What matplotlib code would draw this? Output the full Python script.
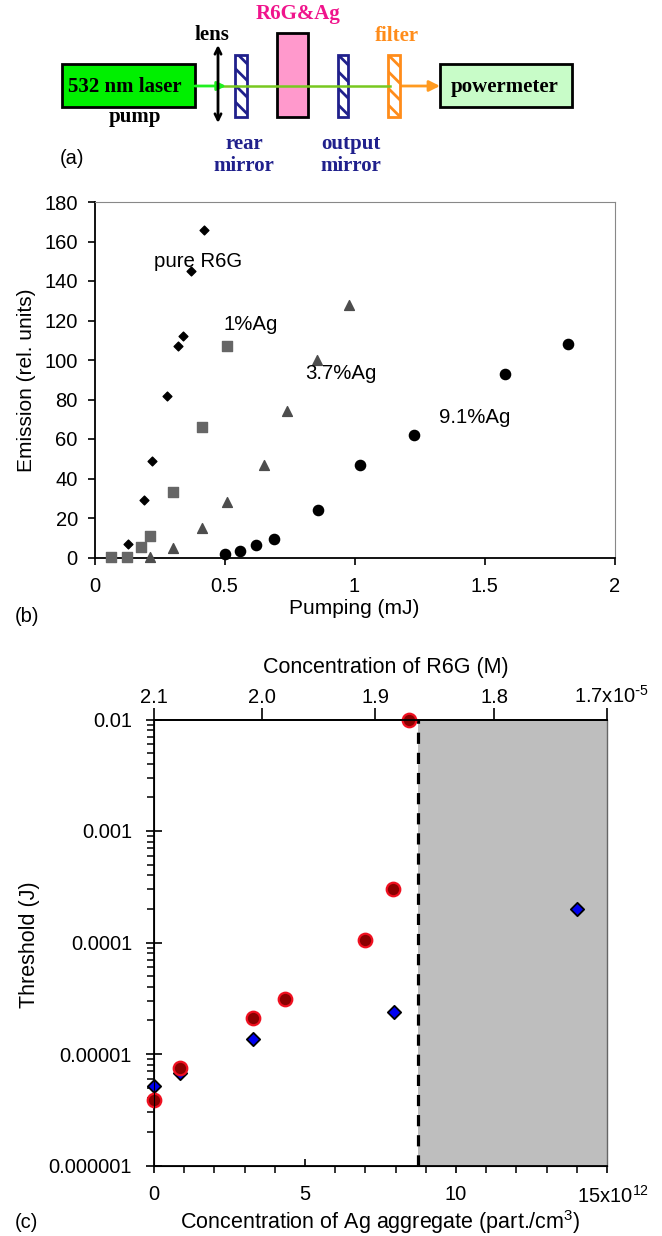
import matplotlib
matplotlib.use('Agg')
import matplotlib.pyplot as plt
from matplotlib.lines import TICKUP
from matplotlib.patches import Rectangle
from matplotlib.ticker import FixedLocator, NullFormatter
from matplotlib.transforms import ScaledTranslation

plt.rcParams['font.family'] = ['Liberation Sans', 'DejaVu Sans']
plt.rcParams['mathtext.default'] = 'regular'
plt.rcParams['font.size'] = 13

W, H = 662, 1236

# panel (b): pumping (mJ) vs emission
PURE_X = [0.13, 0.19, 0.22, 0.28, 0.32, 0.34, 0.37, 0.42]
PURE_Y = [7, 29, 49, 82, 107, 112, 145, 166]
AG1_X = [0.065, 0.125, 0.18, 0.215, 0.30, 0.415, 0.51]
AG1_Y = [0.5, 0.5, 5.5, 11, 33, 66, 107]
AG37_X = [0.215, 0.30, 0.415, 0.51, 0.65, 0.74, 0.855, 0.98]
AG37_Y = [0.5, 5, 15, 28, 47, 74, 100, 128]
AG91_X = [0.50, 0.56, 0.62, 0.69, 0.86, 1.02, 1.23, 1.58, 1.82]
AG91_Y = [2, 3.5, 6.5, 9.5, 24, 47, 62, 93, 108]

# panel (c): threshold vs aggregate concentration
RED_X = [0, 0.85, 3.27, 4.33, 7.0, 7.9, 8.45]
RED_Y = [3.9e-6, 7.5e-6, 2.1e-5, 3.1e-5, 1.05e-4, 3e-4, 9.8e-3]
BLUE_X = [0, 0.85, 3.27, 7.95, 14.0]
BLUE_Y = [5.2e-6, 6.7e-6, 1.35e-5, 2.4e-5, 2e-4]
THRESH_X = 8.73
C_XMAX = 15

# top axis of (c): tick places on the bottom scale
TOP_POS = [0, 3.57, 7.33, 11.27, 15]
TOP_LABELS = ['2.1', '2.0', '1.9', '1.8', '1.7x10$^{\\text{-}5}$']
C_YTICKS = [1e-6, 1e-5, 1e-4, 1e-3, 1e-2]
C_YLABELS = ['0.000001', '0.00001', '0.0001', '0.001', '0.01']


def px_axes(fig, left, top, right, bottom):
    return fig.add_axes([left / W, 1 - bottom / H, (right - left) / W, (bottom - top) / H])


def hatched(ax, x0, y0, x1, y1, col):
    ax.add_patch(Rectangle((x0, y0), x1 - x0, y1 - y0, fc='white', ec=col, lw=2,
                           hatch='\\\\', zorder=4))


def nudge(label, fig, dx_px):
    label.set_transform(label.get_transform() + ScaledTranslation(dx_px / 100, 0, fig.dpi_scale_trans))


def draw_setup(fig):
    ax = fig.add_axes([0, 0, 1, 1])
    ax.set_xlim(0, W)
    ax.set_ylim(H, 0)
    ax.axis('off')
    plt.rcParams['hatch.linewidth'] = 2
    serif = dict(family='Liberation Serif', fontweight='bold', fontsize=15, ha='center', va='center')
    navy = '#20208c'
    orange = '#ff8c1a'

    ax.add_patch(Rectangle((62, 64), 133, 43, fc='#00f000', ec='black', lw=2))
    ax.add_patch(Rectangle((440, 64), 132, 43, fc='#c8fcc8', ec='black', lw=2))
    ax.add_patch(Rectangle((277, 33), 31, 84, fc='#ff99cc', ec='black', lw=2, zorder=3))
    ax.plot([222, 390], [86, 86], color='#78c820', lw=1.8, zorder=5)
    ax.annotate('', xy=(226, 86), xytext=(195, 86),
                arrowprops=dict(arrowstyle='-|>', color='#20f020', lw=2, shrinkA=0, shrinkB=0), zorder=5)
    ax.annotate('', xy=(440, 86), xytext=(400, 86),
                arrowprops=dict(arrowstyle='-|>', color='#ff9a20', lw=2, mutation_scale=16,
                                shrinkA=0, shrinkB=0))
    ax.annotate('', xy=(218, 45), xytext=(218, 123),
                arrowprops=dict(arrowstyle='<->', color='black', lw=2, mutation_scale=11,
                                shrinkA=0, shrinkB=0), zorder=6)
    hatched(ax, 235, 55, 247, 117, navy)
    hatched(ax, 338, 55, 348, 117, navy)
    hatched(ax, 388, 55, 400, 117, orange)

    ax.text(125, 87, '532 nm laser', **serif)
    ax.text(505, 87, 'powermeter', **serif)
    ax.text(135, 117, 'pump', **serif)
    ax.text(212, 35, 'lens', **serif)
    ax.text(298, 14, 'R6G&Ag', color='#f0148c', **serif)
    ax.text(397, 36, 'filter', color=orange, **serif)
    ax.text(244, 144, 'rear', color=navy, **serif)
    ax.text(244, 166, 'mirror', color=navy, **serif)
    ax.text(351, 144, 'output', color=navy, **serif)
    ax.text(351, 166, 'mirror', color=navy, **serif)
    ax.text(60, 159, '(a)', fontsize=14.5, ha='left', va='center')
    ax.text(15, 616, '(b)', fontsize=14.5, ha='left', va='center')
    ax.text(15, 1223, '(c)', fontsize=14.5, ha='left', va='center')


def draw_emission(fig):
    ax = px_axes(fig, 94.5, 202, 614.5, 557.5)
    ax.scatter(PURE_X, PURE_Y, marker='D', s=20, color='black', clip_on=False, zorder=3)
    ax.scatter(AG1_X, AG1_Y, marker='s', s=45, color='#666666', clip_on=False, zorder=3)
    ax.scatter(AG37_X, AG37_Y, marker='^', s=50, color='#4d4d4d', clip_on=False, zorder=3)
    ax.scatter(AG91_X, AG91_Y, marker='o', s=54, color='black', clip_on=False, zorder=3)
    ax.set_xlim(0, 2)
    ax.set_ylim(0, 180)
    ax.set_xticks([0, 0.5, 1, 1.5, 2])
    ax.set_xticklabels(['0', '0.5', '1', '1.5', '2'])
    ax.set_yticks(range(0, 181, 20))
    ax.tick_params(axis='both', labelsize=14.5, length=5, width=1.2, direction='out')
    ax.tick_params(axis='x', pad=9)
    ax.tick_params(axis='y', pad=7)
    ax.spines['top'].set_color('#888888')
    ax.spines['right'].set_color('#888888')
    ax.spines['left'].set_linewidth(1.3)
    ax.spines['bottom'].set_linewidth(1.3)
    ax.set_xlabel('Pumping (mJ)', fontsize=15, labelpad=2)
    ax.set_ylabel('Emission (rel. units)', fontsize=15, labelpad=6)
    ax.text(0.23, 150, 'pure R6G', fontsize=14.7, va='center')
    ax.text(0.495, 118, '1%Ag', fontsize=14.7, va='center')
    ax.text(0.81, 93, '3.7%Ag', fontsize=14.7, va='center')
    ax.text(1.325, 71, '9.1%Ag', fontsize=14.7, va='center')


def draw_threshold(fig):
    ax = px_axes(fig, 154, 719.5, 607, 1165.5)
    ax.axvspan(THRESH_X, C_XMAX, color='#bebebe', lw=0, zorder=1)
    ax.axvline(THRESH_X, color='black', ls=(0, (3.5, 2.8)), lw=2.3, zorder=2)
    ax.scatter(BLUE_X, BLUE_Y, marker='D', s=46, color='#0000f0', edgecolor='black', lw=1.3,
               clip_on=False, zorder=4)
    ax.scatter(RED_X, RED_Y, marker='o', s=95, color='#8b0000', edgecolor='#f01020', lw=1.6,
               clip_on=False, zorder=5)
    ax.set_yscale('log')
    ax.set_xlim(0, C_XMAX)
    ax.set_ylim(1e-6, 1e-2)
    ax.set_xticks([0, 5, 10, 15])
    ax.set_xticklabels(['0', '5', '10', '15x10$^{12}$'])
    ax.set_xticks([t for t in range(0, 16) if t % 5], minor=True)
    ax.yaxis.set_major_locator(FixedLocator(C_YTICKS))
    ax.set_yticklabels(C_YLABELS)
    ax.yaxis.set_minor_locator(FixedLocator(
        [m * t for t in C_YTICKS[:-1] for m in range(2, 10)]))
    ax.yaxis.set_minor_formatter(NullFormatter())
    ax.tick_params(axis='both', which='minor', length=5, width=1.1, direction='out')
    ax.tick_params(axis='x', which='major', labelsize=14.5, length=5, width=1.2, direction='out', pad=9)
    ax.tick_params(axis='y', which='major', labelsize=14.5, length=11.5, width=1.2, direction='inout', pad=10)
    # the "5" tick points into the plot in the original
    ax.xaxis.get_major_ticks()[1].tick1line.set_marker(TICKUP)
    nudge(ax.get_xticklabels()[-1], fig, 6)
    ax.spines['right'].set_color('#666666')
    ax.spines['right'].set_linewidth(1)
    for s in ['left', 'top', 'bottom']:
        ax.spines[s].set_linewidth(1.3)
    ax.set_xlabel('Concentration of Ag aggregate (part./cm$^{3}$)', fontsize=15.5, labelpad=1)
    ax.set_ylabel('Threshold (J)', fontsize=15.5, y=0.495, labelpad=6)

    top = ax.twiny()
    top.set_xlim(0, C_XMAX)
    top.set_xticks(TOP_POS)
    top.set_xticklabels(TOP_LABELS)
    top.tick_params(axis='x', labelsize=14.5, length=9, width=1.2, direction='out', pad=0)
    nudge(top.get_xticklabels()[-1], fig, 4)
    top.spines['right'].set_visible(False)
    top.spines['top'].set_linewidth(1.3)
    top.set_xlabel('Concentration of R6G (M)', fontsize=15.5, x=0.511, labelpad=9)


if __name__ == "__main__":
    fig = plt.figure(figsize=(W / 100, H / 100), dpi=100)
    draw_setup(fig)
    draw_emission(fig)
    draw_threshold(fig)
    fig.savefig('out.png', dpi=100)
    plt.close(fig)
